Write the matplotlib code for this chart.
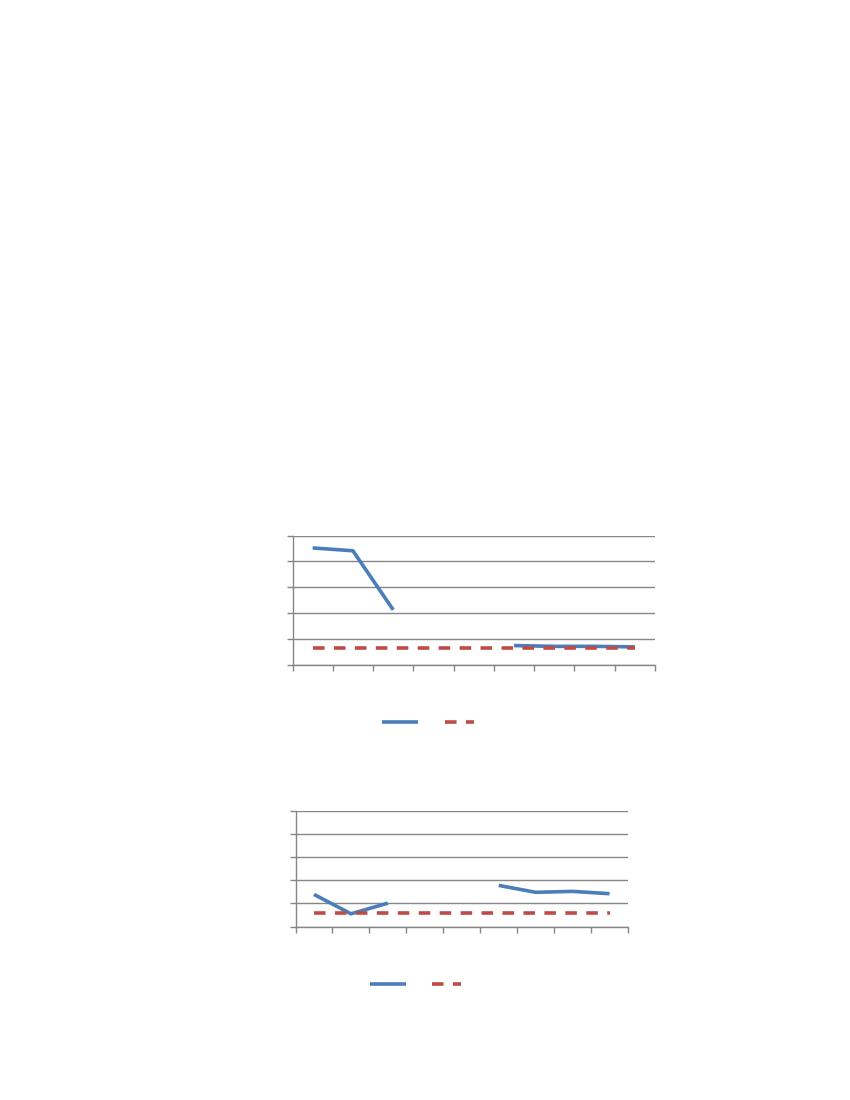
import numpy as np
import matplotlib
matplotlib.use("Agg")
import matplotlib.pyplot as plt

# Data (NaN = missing points)
categories = list(range(1, 10))
top_series = [4.52, 4.41, 2.13, np.nan, np.nan, 0.75, 0.72, 0.72, 0.70]
top_ref = [0.66] * 9
bottom_series = [1.39, 0.55, 1.01, np.nan, np.nan, 1.78, 1.48, 1.52, 1.42]
bottom_ref = [0.57] * 9

W, H = 850, 1100
fig = plt.figure(figsize=(W / 100, H / 100), dpi=100)

blue = "#4A7EBB"
red = "#BE4B48"
grid = "#868686"
LW = 2.6
DASH = (3.2, 2.6)


def px_axes(left, top, right, bottom):
    return fig.add_axes([left / W, 1 - bottom / H, (right - left) / W, (bottom - top) / H])


def draw(ax, series, ref):
    x = np.arange(len(categories))
    ax.plot(x, series, color=blue, lw=LW, solid_capstyle="butt")
    ax.plot(x, ref, color=red, lw=LW, dashes=DASH, dash_capstyle="butt")
    ax.set_xlim(-0.5, len(categories) - 0.5)
    ax.set_ylim(0, 5)
    ax.set_yticks(range(6))
    ax.set_xticks(np.arange(len(categories) + 1) - 0.5)
    ax.set_xticklabels([])
    ax.set_yticklabels([])
    ax.yaxis.grid(True, color=grid, lw=1)
    ax.set_axisbelow(True)
    for s in ["top", "right"]:
        ax.spines[s].set_visible(False)
    for s in ["left", "bottom"]:
        ax.spines[s].set_color(grid)
        ax.spines[s].set_linewidth(1)
    ax.tick_params(colors=grid, length=4, width=1, direction="out")


def legend_keys(y, bx0, bx1, rx0, rx1):
    ax = fig.add_axes([0, 0, 1, 1])
    ax.set_xlim(0, W)
    ax.set_ylim(H, 0)
    ax.axis("off")
    ax.plot([bx0, bx1], [y, y], color=blue, lw=LW, solid_capstyle="butt")
    ax.plot([rx0, rx1], [y, y], color=red, lw=LW, dashes=DASH, dash_capstyle="butt")


ax1 = px_axes(292.5, 535.5, 655, 665)
draw(ax1, top_series, top_ref)
legend_keys(722, 382, 418, 445, 474)

ax2 = px_axes(295.5, 811, 628, 926.5)
draw(ax2, bottom_series, bottom_ref)
legend_keys(984, 370, 406, 432, 461)

fig.savefig("out.png", dpi=100, facecolor="white")
